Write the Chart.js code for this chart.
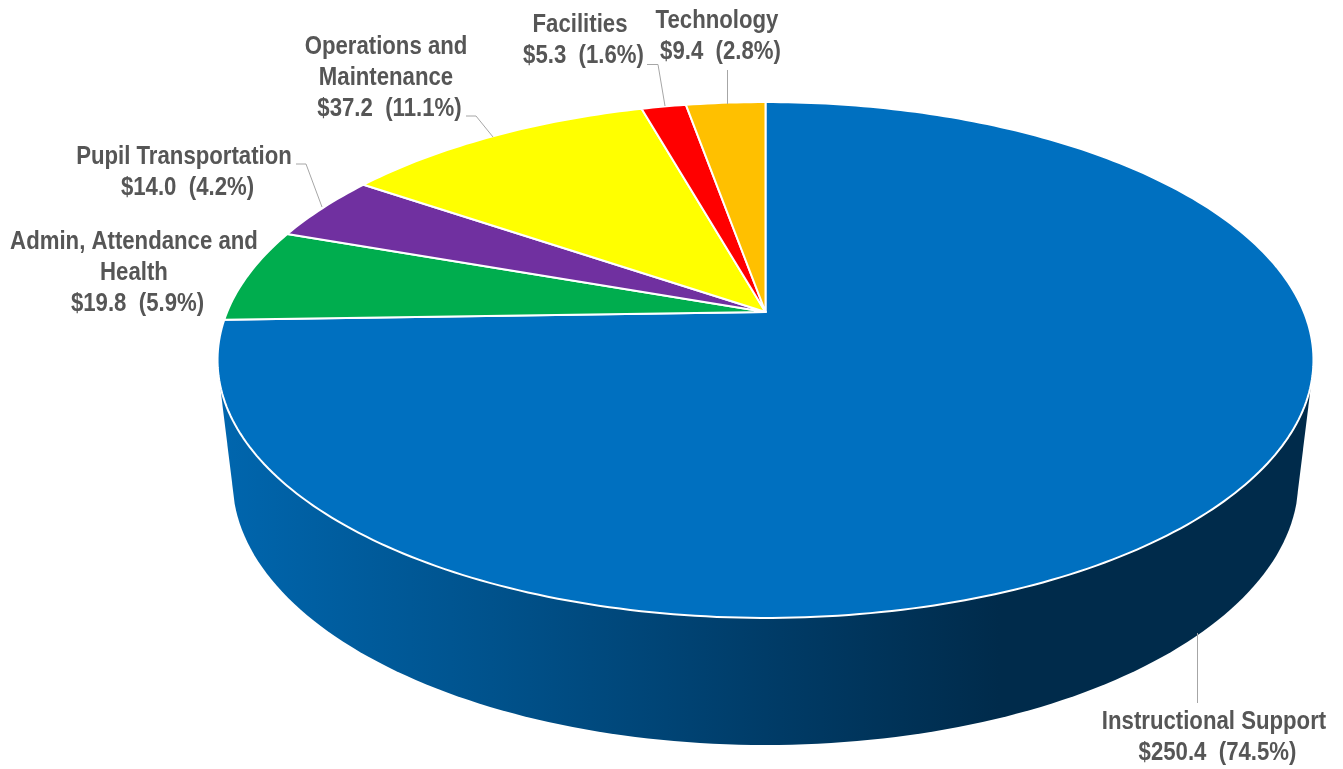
<!DOCTYPE html>
<html>
<head>
<meta charset="utf-8">
<title>Expenditures by function</title>
<script src="https://cdn.jsdelivr.net/npm/chart.js@4/dist/chart.umd.js"></script>
<style>
  html, body { margin: 0; padding: 0; background: #fff; overflow: hidden; }
  #wrap { width: 1343px; height: 769px; }
</style>
</head>
<body>
<div id="wrap"><canvas id="pie" width="1343" height="769"></canvas></div>
<script>
const categories = ['Instructional Support', 'Admin, Attendance and Health', 'Pupil Transportation',
    'Operations and Maintenance', 'Facilities', 'Technology'];
const amounts = [250.4, 19.8, 14.0, 37.2, 5.3, 9.4];
const percents = [74.5, 5.9, 4.2, 11.1, 1.6, 2.8];
const colors = ['#0070c0', '#00ad4e', '#7030a0', '#ffff00', '#ff0000', '#ffc000'];
const nameLines = [['Instructional Support'], ['Admin, Attendance and', 'Health'], ['Pupil Transportation'],
    ['Operations and', 'Maintenance'], ['Facilities'], ['Technology']];

// where each label block sits: centre x, first line's middle y, then the leader line
const labelBoxes = [
    { x: 1214, y: 722, leader: [[1197.5, 633], [1197.5, 703]] },
    { x: 134, y: 242, leader: null },
    { x: 184, y: 157, leader: [[296, 164], [306, 164], [322, 207]] },
    { x: 386, y: 47, leader: [[466, 116], [476, 116], [493, 137]] },
    { x: 580, y: 25, leader: [[647, 64.5], [658, 64.5], [665, 106]] },
    { x: 717, y: 21, leader: [[727.5, 70], [727.5, 104]] }
];

// tilted disc: the apex sits above the ellipse centre, so angles go through a projective map
const tilt = { x: 765.5, y: 312, k: 538.4, m: 249, p: -0.186 };
function project(a) {
    const u = Math.cos(a), v = Math.sin(a), d = 1 + tilt.p * v;
    return [tilt.x + tilt.k * u / d, tilt.y + tilt.m * v / d];
}

function ellipsePath(ctx, cx, cy, rx, ry, from, to) {
    for (let i = 0; i <= 120; i++) {
        const a = from + (to - from) * i / 120;
        ctx.lineTo(cx + rx * Math.cos(a), cy + ry * Math.sin(a));
    }
}

function drawWall(ctx) {
    const g = ctx.createLinearGradient(218, 0, 1000, 0);
    g.addColorStop(0, '#0066ae');
    g.addColorStop(0.35, '#00528c');
    g.addColorStop(0.7, '#003c68');
    g.addColorStop(1, '#002b4b');
    ctx.beginPath();
    ctx.moveTo(220, 385);
    ellipsePath(ctx, 765.5, 480, 533, 265, Math.PI - 0.09, 0.09);
    ctx.lineTo(1311, 385);
    ctx.closePath();
    ctx.fillStyle = g;
    ctx.fill();
}

const tiltedPie = {
    id: 'tiltedPie',
    beforeDatasetDraw(chart) {
        const ctx = chart.ctx, arcs = chart.getDatasetMeta(0).data;
        ctx.save();
        drawWall(ctx);
        arcs.forEach((arc, i) => {
            const steps = Math.max(8, Math.ceil((arc.endAngle - arc.startAngle) * 60));
            ctx.beginPath();
            ctx.moveTo(tilt.x, tilt.y);
            for (let s = 0; s <= steps; s++) {
                const p = project(arc.startAngle + (arc.endAngle - arc.startAngle) * s / steps);
                ctx.lineTo(p[0], p[1]);
            }
            ctx.closePath();
            ctx.fillStyle = colors[i];
            ctx.fill();
            ctx.strokeStyle = '#fff';
            ctx.lineWidth = 2;
            ctx.lineJoin = 'round';
            ctx.stroke();
        });
        ctx.restore();
        return false;
    },
    afterDatasetsDraw(chart) {
        const ctx = chart.ctx;
        ctx.save();
        ctx.font = 'bold 25.5px "Liberation Sans", sans-serif';
        ctx.textAlign = 'center';
        ctx.textBaseline = 'middle';
        ctx.fillStyle = '#565656';
        categories.forEach((c, i) => {
            const box = labelBoxes[i];
            const lines = nameLines[i].concat('$' + amounts[i].toFixed(1) + '  (' + percents[i].toFixed(1) + '%)');
            lines.forEach((t, n) => {
                // no narrow bold face is installed, so squeeze the regular one;
                // the value line sits a little right of the name above it
                const shift = n === lines.length - 1 ? 3.5 : 0;
                ctx.save();
                ctx.translate(box.x + shift, box.y + n * 31);
                ctx.scale(0.87, 1);
                ctx.fillText(t, 0, 0);
                ctx.restore();
            });
            if (box.leader) {
                ctx.beginPath();
                box.leader.forEach((p, n) => n ? ctx.lineTo(p[0], p[1]) : ctx.moveTo(p[0], p[1]));
                ctx.strokeStyle = '#a6a6a6';
                ctx.lineWidth = 1;
                ctx.stroke();
            }
        });
        ctx.restore();
    }
};

new Chart(document.getElementById('pie'), {
    type: 'pie',
    data: {
        labels: categories,
        datasets: [{ data: amounts, backgroundColor: colors, borderColor: '#fff', borderWidth: 2 }]
    },
    options: {
        responsive: false,
        animation: false,
        plugins: { legend: { display: false }, tooltip: { enabled: false } }
    },
    plugins: [tiltedPie]
});
</script>
</body>
</html>
